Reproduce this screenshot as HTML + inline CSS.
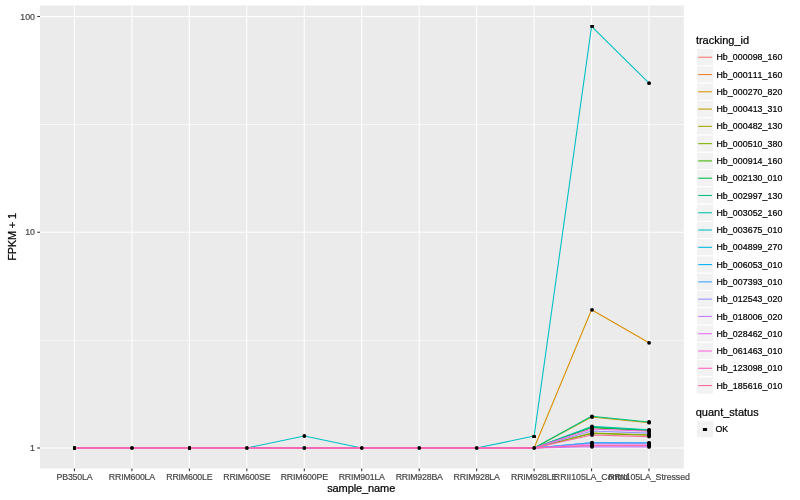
<!DOCTYPE html>
<html><head><meta charset="utf-8"><title>plot</title>
<style>html,body{margin:0;padding:0;background:#fff}svg{display:block;will-change:transform}text{font-family:"Liberation Sans",sans-serif;font-kerning:none;stroke:#000;stroke-width:0.22px}.tk text{stroke:#4D4D4D;stroke-width:0.2px}</style></head>
<body>
<svg width="800" height="500" viewBox="0 0 800 500">
<rect width="800" height="500" fill="#fff"/>
<rect x="40.0" y="5.5" width="643.8" height="463.0" fill="#EBEBEB"/>
<g stroke="#fff" stroke-width="0.53">
<line x1="40.0" x2="683.8" y1="340.5" y2="340.5" stroke-width="0.5"/>
<line x1="40.0" x2="683.8" y1="124.5" y2="124.5" stroke-width="0.65"/>
</g>
<g stroke="#fff" stroke-width="1.07">
<line x1="40.0" x2="683.8" y1="448.00" y2="448.00"/>
<line x1="40.0" x2="683.8" y1="232.25" y2="232.25"/>
<line x1="40.0" x2="683.8" y1="16.50" y2="16.50"/>
<line x1="74.42" x2="74.42" y1="5.5" y2="468.5"/>
<line x1="131.88" x2="131.88" y1="5.5" y2="468.5"/>
<line x1="189.33" x2="189.33" y1="5.5" y2="468.5"/>
<line x1="246.79" x2="246.79" y1="5.5" y2="468.5"/>
<line x1="304.25" x2="304.25" y1="5.5" y2="468.5"/>
<line x1="361.71" x2="361.71" y1="5.5" y2="468.5"/>
<line x1="419.16" x2="419.16" y1="5.5" y2="468.5"/>
<line x1="476.62" x2="476.62" y1="5.5" y2="468.5"/>
<line x1="534.08" x2="534.08" y1="5.5" y2="468.5"/>
<line x1="591.53" x2="591.53" y1="5.5" y2="468.5"/>
<line x1="648.99" x2="648.99" y1="5.5" y2="468.5"/>
</g>
<g fill="none" stroke-width="1.07" stroke-linejoin="round">
<polyline stroke="#F8766D" points="74.45,448.00 131.91,448.00 189.36,448.00 246.82,448.00 304.28,448.00 361.74,448.00 419.19,448.00 476.65,448.00 534.11,448.00 591.56,445.70 649.02,445.80"/>
<polyline stroke="#EA8331" stroke-width="0.5" points="74.45,448.00 131.91,448.00 189.36,448.00 246.82,448.00 304.28,448.00 361.74,448.00 419.19,448.00 476.65,448.00 534.11,448.00 591.56,445.70 649.02,445.80"/>
<polyline stroke="#D89000" points="74.45,448.00 131.91,448.00 189.36,448.00 246.82,448.00 304.28,448.00 361.74,448.00 419.19,448.00 476.65,448.00 534.11,448.00 591.56,309.80 649.02,342.80"/>
<polyline stroke="#C09B00" points="74.45,448.00 131.91,448.00 189.36,448.00 246.82,448.00 304.28,448.00 361.74,448.00 419.19,448.00 476.65,448.00 534.11,448.00 591.56,417.00 649.02,422.70"/>
<polyline stroke="#A3A500" points="74.45,448.00 131.91,448.00 189.36,448.00 246.82,448.00 304.28,448.00 361.74,448.00 419.19,448.00 476.65,448.00 534.11,448.00 591.56,433.00 649.02,434.70"/>
<polyline stroke="#7CAE00" points="74.45,448.00 131.91,448.00 189.36,448.00 246.82,448.00 304.28,448.00 361.74,448.00 419.19,448.00 476.65,448.00 534.11,448.00 591.56,433.40 649.02,435.20"/>
<polyline stroke="#39B600" points="74.45,448.00 131.91,448.00 189.36,448.00 246.82,448.00 304.28,448.00 361.74,448.00 419.19,448.00 476.65,448.00 534.11,448.00 591.56,427.60 649.02,430.60"/>
<polyline stroke="#00BB4E" points="74.45,448.00 131.91,448.00 189.36,448.00 246.82,448.00 304.28,448.00 361.74,448.00 419.19,448.00 476.65,448.00 534.11,448.00 591.56,427.20 649.02,430.40"/>
<polyline stroke="#00BF7D" points="74.45,448.00 131.91,448.00 189.36,448.00 246.82,448.00 304.28,448.00 361.74,448.00 419.19,448.00 476.65,448.00 534.11,448.00 591.56,416.30 649.02,422.00"/>
<polyline stroke="#00C1A3" points="74.45,448.00 131.91,448.00 189.36,448.00 246.82,448.00 304.28,448.00 361.74,448.00 419.19,448.00 476.65,448.00 534.11,448.00 591.56,426.40 649.02,429.80"/>
<polyline stroke="#00BFC4" points="74.45,448.00 131.91,448.00 189.36,448.00 246.82,448.00 304.28,436.00 361.74,448.00 419.19,448.00 476.65,448.00 534.11,436.10 591.56,26.40 649.02,83.20"/>
<polyline stroke="#00BAE0" stroke-width="0.5" points="74.45,448.00 131.91,448.00 189.36,448.00 246.82,448.00 304.28,448.00 361.74,448.00 419.19,448.00 476.65,448.00 534.11,448.00 591.56,442.90 649.02,443.10"/>
<polyline stroke="#00B0F6" stroke-width="0.6" points="74.45,448.00 131.91,448.00 189.36,448.00 246.82,448.00 304.28,448.00 361.74,448.00 419.19,448.00 476.65,448.00 534.11,448.00 591.56,442.60 649.02,442.80"/>
<polyline stroke="#35A2FF" points="74.45,448.00 131.91,448.00 189.36,448.00 246.82,448.00 304.28,448.00 361.74,448.00 419.19,448.00 476.65,448.00 534.11,448.00 591.56,442.90 649.02,443.10"/>
<polyline stroke="#9590FF" points="74.45,448.00 131.91,448.00 189.36,448.00 246.82,448.00 304.28,448.00 361.74,448.00 419.19,448.00 476.65,448.00 534.11,448.00 591.56,431.00 649.02,433.10"/>
<polyline stroke="#C77CFF" points="74.45,448.00 131.91,448.00 189.36,448.00 246.82,448.00 304.28,448.00 361.74,448.00 419.19,448.00 476.65,448.00 534.11,448.00 591.56,446.80 649.02,446.90"/>
<polyline stroke="#E76BF3" stroke-width="0.7" points="74.45,448.00 131.91,448.00 189.36,448.00 246.82,448.00 304.28,448.00 361.74,448.00 419.19,448.00 476.65,448.00 534.11,448.00 591.56,443.90 649.02,444.10"/>
<polyline stroke="#FA62DB" points="74.45,448.00 131.91,448.00 189.36,448.00 246.82,448.00 304.28,448.00 361.74,448.00 419.19,448.00 476.65,448.00 534.11,448.00 591.56,429.00 649.02,431.30"/>
<polyline stroke="#FF62BC" points="74.45,448.00 131.91,448.00 189.36,448.00 246.82,448.00 304.28,448.00 361.74,448.00 419.19,448.00 476.65,448.00 534.11,448.00 591.56,445.20 649.02,445.30"/>
<polyline stroke="#FF6A98" points="74.45,448.00 131.91,448.00 189.36,448.00 246.82,448.00 304.28,448.00 361.74,448.00 419.19,448.00 476.65,448.00 534.11,448.00 591.56,435.00 649.02,436.60"/>
</g>
<g fill="#000">
<rect x="73" y="446.1" width="3" height="3.8" rx="0.4"/>
<circle cx="131.97" cy="448.00" r="1.9"/>
<rect x="188" y="446.1" width="3" height="3.8" rx="0.4"/>
<circle cx="246.88" cy="448.00" r="1.9"/>
<circle cx="304.34" cy="448.00" r="1.9"/>
<circle cx="361.80" cy="448.00" r="1.9"/>
<circle cx="419.25" cy="448.00" r="1.9"/>
<circle cx="476.71" cy="448.00" r="1.9"/>
<circle cx="534.17" cy="448.00" r="1.9"/>
<circle cx="592.01" cy="445.70" r="1.9"/>
<circle cx="649.08" cy="445.80" r="1.9"/>
<circle cx="592.01" cy="309.80" r="1.9"/>
<circle cx="649.08" cy="342.80" r="1.9"/>
<circle cx="592.01" cy="417.00" r="1.9"/>
<circle cx="649.08" cy="422.70" r="1.9"/>
<circle cx="592.01" cy="433.00" r="1.9"/>
<circle cx="649.08" cy="434.70" r="1.9"/>
<circle cx="592.01" cy="433.40" r="1.9"/>
<circle cx="649.08" cy="435.20" r="1.9"/>
<circle cx="592.01" cy="427.60" r="1.9"/>
<circle cx="649.08" cy="430.60" r="1.9"/>
<circle cx="592.01" cy="427.20" r="1.9"/>
<circle cx="649.08" cy="430.40" r="1.9"/>
<circle cx="592.01" cy="416.30" r="1.9"/>
<circle cx="649.08" cy="422.00" r="1.9"/>
<circle cx="592.01" cy="426.40" r="1.9"/>
<circle cx="649.08" cy="429.80" r="1.9"/>
<circle cx="304.34" cy="436.00" r="1.9"/>
<rect x="532.1" y="435" width="3.9" height="2.9" rx="0.4"/>
<rect x="590.2" y="25.1" width="3.8" height="2.7" rx="0.5"/>
<circle cx="649.08" cy="83.20" r="1.9"/>
<circle cx="592.01" cy="442.90" r="1.9"/>
<circle cx="649.08" cy="443.10" r="1.9"/>
<circle cx="592.01" cy="442.60" r="1.9"/>
<circle cx="649.08" cy="442.80" r="1.9"/>
<circle cx="592.01" cy="431.00" r="1.9"/>
<circle cx="649.08" cy="433.10" r="1.9"/>
<circle cx="592.01" cy="446.80" r="1.9"/>
<circle cx="649.08" cy="446.90" r="1.9"/>
<circle cx="592.01" cy="443.90" r="1.9"/>
<circle cx="649.08" cy="444.10" r="1.9"/>
<circle cx="592.01" cy="429.00" r="1.9"/>
<circle cx="649.08" cy="431.30" r="1.9"/>
<circle cx="592.01" cy="445.20" r="1.9"/>
<circle cx="649.08" cy="445.30" r="1.9"/>
<circle cx="592.01" cy="435.00" r="1.9"/>
<circle cx="649.08" cy="436.60" r="1.9"/>
</g>
<g stroke="#333" stroke-width="1.07">
<line x1="37.25" x2="40.0" y1="448.00" y2="448.00"/>
<line x1="37.25" x2="40.0" y1="232.25" y2="232.25"/>
<line x1="37.25" x2="40.0" y1="16.50" y2="16.50"/>
<line x1="74.45" x2="74.45" y1="468.5" y2="471.25"/>
<line x1="131.91" x2="131.91" y1="468.5" y2="471.25"/>
<line x1="189.36" x2="189.36" y1="468.5" y2="471.25"/>
<line x1="246.82" x2="246.82" y1="468.5" y2="471.25"/>
<line x1="304.28" x2="304.28" y1="468.5" y2="471.25"/>
<line x1="361.74" x2="361.74" y1="468.5" y2="471.25"/>
<line x1="419.19" x2="419.19" y1="468.5" y2="471.25"/>
<line x1="476.65" x2="476.65" y1="468.5" y2="471.25"/>
<line x1="534.11" x2="534.11" y1="468.5" y2="471.25"/>
<line x1="591.56" x2="591.56" y1="468.5" y2="471.25"/>
<line x1="649.02" x2="649.02" y1="468.5" y2="471.25"/>
</g>
<g class="tk" fill="#444" font-size="8.8px">
<text x="35" y="451.20" text-anchor="end">1</text>
<text x="35" y="235.45" text-anchor="end">10</text>
<text x="35" y="19.70" text-anchor="end">100</text>
<text x="74.45" y="480" text-anchor="middle" letter-spacing="-0.2">PB350LA</text>
<text x="131.91" y="480" text-anchor="middle" letter-spacing="-0.2">RRIM600LA</text>
<text x="189.36" y="480" text-anchor="middle" letter-spacing="-0.2">RRIM600LE</text>
<text x="246.82" y="480" text-anchor="middle" letter-spacing="-0.2">RRIM600SE</text>
<text x="304.28" y="480" text-anchor="middle" letter-spacing="-0.2">RRIM600PE</text>
<text x="361.74" y="480" text-anchor="middle" letter-spacing="-0.2">RRIM901LA</text>
<text x="419.19" y="480" text-anchor="middle" letter-spacing="-0.2">RRIM928BA</text>
<text x="476.65" y="480" text-anchor="middle" letter-spacing="-0.2">RRIM928LA</text>
<text x="534.11" y="480" text-anchor="middle" letter-spacing="-0.2">RRIM928LE</text>
<text x="591.56" y="480" text-anchor="middle" letter-spacing="-0.05">RRII105LA_Control</text>
<text x="649.02" y="480" text-anchor="middle" letter-spacing="-0.05">RRII105LA_Stressed</text>
</g>
<text x="361.2" y="492" text-anchor="middle" font-size="11px" fill="#000" letter-spacing="-0.1">sample_name</text>
<text transform="translate(15.5,237.0) rotate(-90)" text-anchor="middle" font-size="11px" fill="#000" letter-spacing="-0.2">FPKM + 1</text>
<text x="695.9" y="44" font-size="11px" fill="#000">tracking_id</text>
<rect x="696.5" y="48.60" width="17.28" height="17.28" fill="#F2F2F2" stroke="#fff" stroke-width="1.07"/>
<line x1="698.23" x2="712.05" y1="57.24" y2="57.24" stroke="#F8766D" stroke-width="1.07"/>
<text x="716.38" y="60.34" font-size="8.8px" fill="#000" letter-spacing="0.08">Hb_000098_160</text>
<rect x="696.5" y="65.88" width="17.28" height="17.28" fill="#F2F2F2" stroke="#fff" stroke-width="1.07"/>
<line x1="698.23" x2="712.05" y1="74.52" y2="74.52" stroke="#EA8331" stroke-width="1.07"/>
<text x="716.38" y="77.62" font-size="8.8px" fill="#000" letter-spacing="0.08">Hb_000111_160</text>
<rect x="696.5" y="83.16" width="17.28" height="17.28" fill="#F2F2F2" stroke="#fff" stroke-width="1.07"/>
<line x1="698.23" x2="712.05" y1="91.80" y2="91.80" stroke="#D89000" stroke-width="1.07"/>
<text x="716.38" y="94.90" font-size="8.8px" fill="#000" letter-spacing="0.08">Hb_000270_820</text>
<rect x="696.5" y="100.44" width="17.28" height="17.28" fill="#F2F2F2" stroke="#fff" stroke-width="1.07"/>
<line x1="698.23" x2="712.05" y1="109.08" y2="109.08" stroke="#C09B00" stroke-width="1.07"/>
<text x="716.38" y="112.18" font-size="8.8px" fill="#000" letter-spacing="0.08">Hb_000413_310</text>
<rect x="696.5" y="117.72" width="17.28" height="17.28" fill="#F2F2F2" stroke="#fff" stroke-width="1.07"/>
<line x1="698.23" x2="712.05" y1="126.36" y2="126.36" stroke="#A3A500" stroke-width="1.07"/>
<text x="716.38" y="129.46" font-size="8.8px" fill="#000" letter-spacing="0.08">Hb_000482_130</text>
<rect x="696.5" y="135.00" width="17.28" height="17.28" fill="#F2F2F2" stroke="#fff" stroke-width="1.07"/>
<line x1="698.23" x2="712.05" y1="143.64" y2="143.64" stroke="#7CAE00" stroke-width="1.07"/>
<text x="716.38" y="146.74" font-size="8.8px" fill="#000" letter-spacing="0.08">Hb_000510_380</text>
<rect x="696.5" y="152.28" width="17.28" height="17.28" fill="#F2F2F2" stroke="#fff" stroke-width="1.07"/>
<line x1="698.23" x2="712.05" y1="160.92" y2="160.92" stroke="#39B600" stroke-width="1.07"/>
<text x="716.38" y="164.02" font-size="8.8px" fill="#000" letter-spacing="0.08">Hb_000914_160</text>
<rect x="696.5" y="169.56" width="17.28" height="17.28" fill="#F2F2F2" stroke="#fff" stroke-width="1.07"/>
<line x1="698.23" x2="712.05" y1="178.20" y2="178.20" stroke="#00BB4E" stroke-width="1.07"/>
<text x="716.38" y="181.30" font-size="8.8px" fill="#000" letter-spacing="0.08">Hb_002130_010</text>
<rect x="696.5" y="186.84" width="17.28" height="17.28" fill="#F2F2F2" stroke="#fff" stroke-width="1.07"/>
<line x1="698.23" x2="712.05" y1="195.48" y2="195.48" stroke="#00BF7D" stroke-width="1.07"/>
<text x="716.38" y="198.58" font-size="8.8px" fill="#000" letter-spacing="0.08">Hb_002997_130</text>
<rect x="696.5" y="204.12" width="17.28" height="17.28" fill="#F2F2F2" stroke="#fff" stroke-width="1.07"/>
<line x1="698.23" x2="712.05" y1="212.76" y2="212.76" stroke="#00C1A3" stroke-width="1.07"/>
<text x="716.38" y="215.86" font-size="8.8px" fill="#000" letter-spacing="0.08">Hb_003052_160</text>
<rect x="696.5" y="221.40" width="17.28" height="17.28" fill="#F2F2F2" stroke="#fff" stroke-width="1.07"/>
<line x1="698.23" x2="712.05" y1="230.04" y2="230.04" stroke="#00BFC4" stroke-width="1.07"/>
<text x="716.38" y="233.14" font-size="8.8px" fill="#000" letter-spacing="0.08">Hb_003675_010</text>
<rect x="696.5" y="238.68" width="17.28" height="17.28" fill="#F2F2F2" stroke="#fff" stroke-width="1.07"/>
<line x1="698.23" x2="712.05" y1="247.32" y2="247.32" stroke="#00BAE0" stroke-width="1.07"/>
<text x="716.38" y="250.42" font-size="8.8px" fill="#000" letter-spacing="0.08">Hb_004899_270</text>
<rect x="696.5" y="255.96" width="17.28" height="17.28" fill="#F2F2F2" stroke="#fff" stroke-width="1.07"/>
<line x1="698.23" x2="712.05" y1="264.60" y2="264.60" stroke="#00B0F6" stroke-width="1.07"/>
<text x="716.38" y="267.70" font-size="8.8px" fill="#000" letter-spacing="0.08">Hb_006053_010</text>
<rect x="696.5" y="273.24" width="17.28" height="17.28" fill="#F2F2F2" stroke="#fff" stroke-width="1.07"/>
<line x1="698.23" x2="712.05" y1="281.88" y2="281.88" stroke="#35A2FF" stroke-width="1.07"/>
<text x="716.38" y="284.98" font-size="8.8px" fill="#000" letter-spacing="0.08">Hb_007393_010</text>
<rect x="696.5" y="290.52" width="17.28" height="17.28" fill="#F2F2F2" stroke="#fff" stroke-width="1.07"/>
<line x1="698.23" x2="712.05" y1="299.16" y2="299.16" stroke="#9590FF" stroke-width="1.07"/>
<text x="716.38" y="302.26" font-size="8.8px" fill="#000" letter-spacing="0.08">Hb_012543_020</text>
<rect x="696.5" y="307.80" width="17.28" height="17.28" fill="#F2F2F2" stroke="#fff" stroke-width="1.07"/>
<line x1="698.23" x2="712.05" y1="316.44" y2="316.44" stroke="#C77CFF" stroke-width="1.07"/>
<text x="716.38" y="319.54" font-size="8.8px" fill="#000" letter-spacing="0.08">Hb_018006_020</text>
<rect x="696.5" y="325.08" width="17.28" height="17.28" fill="#F2F2F2" stroke="#fff" stroke-width="1.07"/>
<line x1="698.23" x2="712.05" y1="333.72" y2="333.72" stroke="#E76BF3" stroke-width="1.07"/>
<text x="716.38" y="336.82" font-size="8.8px" fill="#000" letter-spacing="0.08">Hb_028462_010</text>
<rect x="696.5" y="342.36" width="17.28" height="17.28" fill="#F2F2F2" stroke="#fff" stroke-width="1.07"/>
<line x1="698.23" x2="712.05" y1="351.00" y2="351.00" stroke="#FA62DB" stroke-width="1.07"/>
<text x="716.38" y="354.10" font-size="8.8px" fill="#000" letter-spacing="0.08">Hb_061463_010</text>
<rect x="696.5" y="359.64" width="17.28" height="17.28" fill="#F2F2F2" stroke="#fff" stroke-width="1.07"/>
<line x1="698.23" x2="712.05" y1="368.28" y2="368.28" stroke="#FF62BC" stroke-width="1.07"/>
<text x="716.38" y="371.38" font-size="8.8px" fill="#000" letter-spacing="0.08">Hb_123098_010</text>
<rect x="696.5" y="376.92" width="17.28" height="17.28" fill="#F2F2F2" stroke="#fff" stroke-width="1.07"/>
<line x1="698.23" x2="712.05" y1="385.56" y2="385.56" stroke="#FF6A98" stroke-width="1.07"/>
<text x="716.38" y="388.66" font-size="8.8px" fill="#000" letter-spacing="0.08">Hb_185616_010</text>
<text x="695.7" y="415.5" font-size="11px" fill="#000">quant_status</text>
<rect x="696.5" y="420.6" width="17.28" height="17.28" fill="#F2F2F2" stroke="#fff" stroke-width="1.07"/>
<rect x="702.9" y="428" width="4.2" height="3" rx="0.6" fill="#000"/>
<text x="715.5" y="432.1" font-size="8.8px" fill="#000">OK</text>
</svg></body></html>
